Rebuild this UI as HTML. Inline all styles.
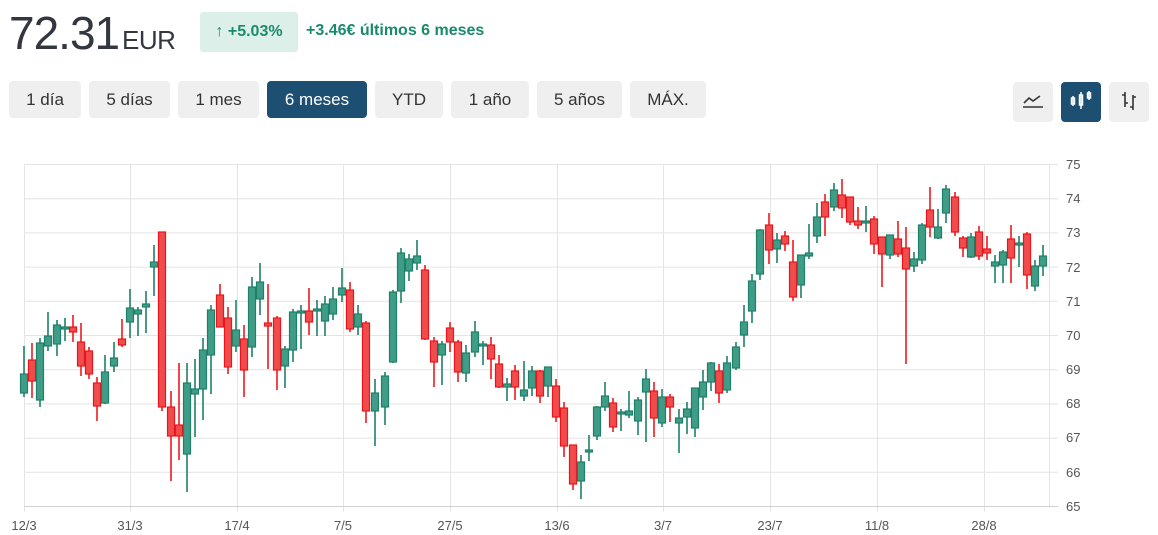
<!DOCTYPE html>
<html><head><meta charset="utf-8"><style>
*{margin:0;padding:0;box-sizing:border-box}
body{width:1158px;height:535px;background:#fff;font-family:"Liberation Sans",sans-serif;position:relative;overflow:hidden}
.price{position:absolute;left:9px;top:6px;font-size:46px;color:#333840;letter-spacing:-1px}
.cur{position:absolute;left:122px;top:25px;font-size:26px;color:#333840;letter-spacing:-0.5px}
.badge{position:absolute;left:200px;top:12px;width:98px;height:40px;background:#dcefe9;border-radius:3px;color:#1a8a6c;font-size:16px;font-weight:bold;line-height:40px;text-align:center}
.chg{position:absolute;left:306px;top:22px;font-size:16px;font-weight:bold;color:#1a8a6c}
.btn{position:absolute;top:81px;height:37px;background:#efefef;border-radius:4px;font-size:17px;color:#333;line-height:37px;text-align:center}
.act{background:#1d4f73;color:#fff}
.ib{position:absolute;top:82px;width:40px;height:40px;background:#efefef;border-radius:4px}
svg{position:absolute;left:0;top:0}
.u line{stroke:#1e8068;stroke-width:1.6}
.u rect{fill:#3f9c86;stroke:#1e8068;stroke-width:1.2}
.d line{stroke:#f01a1e;stroke-width:1.6}
.d rect{fill:#f04c4e;stroke:#e8161b;stroke-width:1.2}
</style></head><body>
<div class="price">72.31</div><div class="cur">EUR</div>
<div class="badge"><span style="font-weight:normal">↑</span> +5.03%</div>
<div class="chg">+3.46€ últimos 6 meses</div>
<div class="btn" style="left:9px;width:72px">1 día</div>
<div class="btn" style="left:89px;width:81px">5 días</div>
<div class="btn" style="left:178px;width:81px">1 mes</div>
<div class="btn act" style="left:267px;width:100px">6 meses</div>
<div class="btn" style="left:375px;width:68px">YTD</div>
<div class="btn" style="left:451px;width:78px">1 año</div>
<div class="btn" style="left:537px;width:85px">5 años</div>
<div class="btn" style="left:630px;width:76px">MÁX.</div>
<div class="ib" style="left:1013px"></div>
<div class="ib" style="left:1061px;background:#1d4f73"></div>
<div class="ib" style="left:1109px"></div>
<svg width="1158" height="535">
<g stroke="#333" stroke-width="1.6" fill="none">
<path d="M1023 107h20M1024 103l5-5 4 3 7-5"/>
</g>
<g stroke="#fff" stroke-width="1.5" fill="none">
<rect x="1071.5" y="98" width="3" height="6"/><line x1="1073" y1="96" x2="1073" y2="106"/>
<rect x="1079.5" y="95" width="3" height="10"/><line x1="1081" y1="92" x2="1081" y2="109"/>
<rect x="1087.5" y="93" width="3" height="5"/><line x1="1089" y1="91" x2="1089" y2="100"/>
</g>
<g stroke="#333" stroke-width="1.6" fill="none">
<path d="M1125 92v15M1122 95h3M1125 103h3M1133 95v15M1133 97h3M1130 107h3"/>
</g>
<g stroke="#e4e4e4" stroke-width="1">
<line x1="24" y1="164.5" x2="1058" y2="164.5"/><line x1="24" y1="198.7" x2="1058" y2="198.7"/><line x1="24" y1="232.9" x2="1058" y2="232.9"/><line x1="24" y1="267.1" x2="1058" y2="267.1"/><line x1="24" y1="301.3" x2="1058" y2="301.3"/><line x1="24" y1="335.5" x2="1058" y2="335.5"/><line x1="24" y1="369.7" x2="1058" y2="369.7"/><line x1="24" y1="403.9" x2="1058" y2="403.9"/><line x1="24" y1="438.1" x2="1058" y2="438.1"/><line x1="24" y1="472.3" x2="1058" y2="472.3"/>
<line x1="24.5" y1="164" x2="24.5" y2="512"/><line x1="130.5" y1="164" x2="130.5" y2="512"/><line x1="237.5" y1="164" x2="237.5" y2="512"/><line x1="343.5" y1="164" x2="343.5" y2="512"/><line x1="450.5" y1="164" x2="450.5" y2="512"/><line x1="557.5" y1="164" x2="557.5" y2="512"/><line x1="663.5" y1="164" x2="663.5" y2="512"/><line x1="770.5" y1="164" x2="770.5" y2="512"/><line x1="877.5" y1="164" x2="877.5" y2="512"/><line x1="984.5" y1="164" x2="984.5" y2="512"/><line x1="1049.5" y1="164" x2="1049.5" y2="506"/>
</g>
<line x1="24" y1="506.5" x2="1058" y2="506.5" stroke="#d0d0d0"/>
<g font-size="13" fill="#555" font-family="Liberation Sans, sans-serif">
<text x="1066" y="169">75</text><text x="1066" y="203">74</text><text x="1066" y="237">73</text><text x="1066" y="272">72</text><text x="1066" y="306">71</text><text x="1066" y="340">70</text><text x="1066" y="374">69</text><text x="1066" y="408">68</text><text x="1066" y="442">67</text><text x="1066" y="477">66</text><text x="1066" y="511">65</text>
</g>
<g font-size="13" fill="#555" text-anchor="middle" font-family="Liberation Sans, sans-serif">
<text x="24" y="530">12/3</text><text x="130" y="530">31/3</text><text x="237" y="530">17/4</text><text x="343" y="530">7/5</text><text x="450" y="530">27/5</text><text x="557" y="530">13/6</text><text x="663" y="530">3/7</text><text x="770" y="530">23/7</text><text x="877" y="530">11/8</text><text x="984" y="530">28/8</text>
</g>
<g class="u"><line x1="24" y1="346" x2="24" y2="397"/><rect x="20.5" y="374" width="7" height="19"/></g>
<g class="d"><line x1="32" y1="343" x2="32" y2="398"/><rect x="28.5" y="360" width="7" height="21"/></g>
<g class="u"><line x1="40" y1="338" x2="40" y2="407"/><rect x="36.5" y="343" width="7" height="57"/></g>
<g class="u"><line x1="48" y1="312" x2="48" y2="351"/><rect x="44.5" y="336" width="7" height="10"/></g>
<g class="u"><line x1="57" y1="320" x2="57" y2="356"/><rect x="53.5" y="325" width="7" height="19"/></g>
<g class="u"><line x1="65" y1="318" x2="65" y2="341"/><rect x="61.5" y="327" width="7" height="2"/></g>
<g class="d"><line x1="73" y1="315" x2="73" y2="342"/><rect x="69.5" y="327" width="7" height="5"/></g>
<g class="d"><line x1="81" y1="323" x2="81" y2="376"/><rect x="77.5" y="342" width="7" height="24"/></g>
<g class="d"><line x1="89" y1="347" x2="89" y2="379"/><rect x="85.5" y="351" width="7" height="23"/></g>
<g class="d"><line x1="97" y1="377" x2="97" y2="421"/><rect x="93.5" y="383" width="7" height="23"/></g>
<g class="u"><line x1="105" y1="355" x2="105" y2="404"/><rect x="101.5" y="372" width="7" height="31"/></g>
<g class="u"><line x1="114" y1="342" x2="114" y2="372"/><rect x="110.5" y="358" width="7" height="8"/></g>
<g class="d"><line x1="122" y1="319" x2="122" y2="347"/><rect x="118.5" y="339" width="7" height="6"/></g>
<g class="u"><line x1="130" y1="289" x2="130" y2="338"/><rect x="126.5" y="308" width="7" height="14"/></g>
<g class="u"><line x1="138" y1="307" x2="138" y2="336"/><rect x="134.5" y="310" width="7" height="4"/></g>
<g class="u"><line x1="146" y1="291" x2="146" y2="333"/><rect x="142.5" y="304" width="7" height="3"/></g>
<g class="u"><line x1="154" y1="245" x2="154" y2="296"/><rect x="150.5" y="262" width="7" height="5"/></g>
<g class="d"><line x1="162" y1="232" x2="162" y2="411"/><rect x="158.5" y="232" width="7" height="175"/></g>
<g class="d"><line x1="171" y1="391" x2="171" y2="481"/><rect x="167.5" y="407" width="7" height="29"/></g>
<g class="d"><line x1="179" y1="363" x2="179" y2="460"/><rect x="175.5" y="425" width="7" height="11"/></g>
<g class="u"><line x1="187" y1="363" x2="187" y2="492"/><rect x="183.5" y="383" width="7" height="71"/></g>
<g class="u"><line x1="195" y1="359" x2="195" y2="437"/><rect x="191.5" y="389" width="7" height="5"/></g>
<g class="u"><line x1="203" y1="338" x2="203" y2="420"/><rect x="199.5" y="350" width="7" height="39"/></g>
<g class="u"><line x1="211" y1="305" x2="211" y2="394"/><rect x="207.5" y="310" width="7" height="45"/></g>
<g class="d"><line x1="220" y1="284" x2="220" y2="327"/><rect x="216.5" y="295" width="7" height="32"/></g>
<g class="d"><line x1="228" y1="307" x2="228" y2="374"/><rect x="224.5" y="318" width="7" height="49"/></g>
<g class="u"><line x1="236" y1="300" x2="236" y2="352"/><rect x="232.5" y="330" width="7" height="16"/></g>
<g class="d"><line x1="244" y1="325" x2="244" y2="397"/><rect x="240.5" y="339" width="7" height="31"/></g>
<g class="u"><line x1="252" y1="277" x2="252" y2="357"/><rect x="248.5" y="287" width="7" height="60"/></g>
<g class="u"><line x1="260" y1="263" x2="260" y2="315"/><rect x="256.5" y="282" width="7" height="17"/></g>
<g class="d"><line x1="268" y1="284" x2="268" y2="369"/><rect x="264.5" y="323" width="7" height="3"/></g>
<g class="d"><line x1="277" y1="316" x2="277" y2="390"/><rect x="273.5" y="318" width="7" height="52"/></g>
<g class="u"><line x1="285" y1="346" x2="285" y2="388"/><rect x="281.5" y="349" width="7" height="17"/></g>
<g class="u"><line x1="293" y1="309" x2="293" y2="362"/><rect x="289.5" y="312" width="7" height="38"/></g>
<g class="u"><line x1="301" y1="305" x2="301" y2="349"/><rect x="297.5" y="311" width="7" height="2"/></g>
<g class="d"><line x1="309" y1="288" x2="309" y2="335"/><rect x="305.5" y="311" width="7" height="11"/></g>
<g class="u"><line x1="317" y1="300" x2="317" y2="336"/><rect x="313.5" y="309" width="7" height="2"/></g>
<g class="u"><line x1="325" y1="296" x2="325" y2="336"/><rect x="321.5" y="304" width="7" height="17"/></g>
<g class="u"><line x1="333" y1="287" x2="333" y2="320"/><rect x="329.5" y="299" width="7" height="15"/></g>
<g class="u"><line x1="342" y1="268" x2="342" y2="302"/><rect x="338.5" y="288" width="7" height="7"/></g>
<g class="d"><line x1="350" y1="282" x2="350" y2="332"/><rect x="346.5" y="290" width="7" height="39"/></g>
<g class="u"><line x1="358" y1="305" x2="358" y2="335"/><rect x="354.5" y="314" width="7" height="13"/></g>
<g class="d"><line x1="366" y1="321" x2="366" y2="423"/><rect x="362.5" y="323" width="7" height="88"/></g>
<g class="u"><line x1="375" y1="379" x2="375" y2="446"/><rect x="371.5" y="393" width="7" height="18"/></g>
<g class="u"><line x1="385" y1="372" x2="385" y2="425"/><rect x="381.5" y="376" width="7" height="31"/></g>
<g class="u"><line x1="393" y1="290" x2="393" y2="363"/><rect x="389.5" y="292" width="7" height="70"/></g>
<g class="u"><line x1="401" y1="248" x2="401" y2="303"/><rect x="397.5" y="253" width="7" height="38"/></g>
<g class="u"><line x1="409" y1="254" x2="409" y2="281"/><rect x="405.5" y="259" width="7" height="12"/></g>
<g class="u"><line x1="417" y1="240" x2="417" y2="270"/><rect x="413.5" y="256" width="7" height="7"/></g>
<g class="d"><line x1="425" y1="265" x2="425" y2="340"/><rect x="421.5" y="270" width="7" height="69"/></g>
<g class="d"><line x1="434" y1="337" x2="434" y2="387"/><rect x="430.5" y="341" width="7" height="21"/></g>
<g class="u"><line x1="442" y1="341" x2="442" y2="385"/><rect x="438.5" y="344" width="7" height="11"/></g>
<g class="d"><line x1="450" y1="322" x2="450" y2="352"/><rect x="446.5" y="328" width="7" height="14"/></g>
<g class="d"><line x1="458" y1="340" x2="458" y2="382"/><rect x="454.5" y="342" width="7" height="30"/></g>
<g class="u"><line x1="466" y1="345" x2="466" y2="382"/><rect x="462.5" y="353" width="7" height="20"/></g>
<g class="u"><line x1="475" y1="321" x2="475" y2="357"/><rect x="471.5" y="332" width="7" height="20"/></g>
<g class="u"><line x1="483" y1="341" x2="483" y2="365"/><rect x="479.5" y="344" width="7" height="2"/></g>
<g class="d"><line x1="491" y1="337" x2="491" y2="379"/><rect x="487.5" y="345" width="7" height="14"/></g>
<g class="d"><line x1="499" y1="355" x2="499" y2="388"/><rect x="495.5" y="364" width="7" height="23"/></g>
<g class="u"><line x1="507" y1="378" x2="507" y2="401"/><rect x="503.5" y="384" width="7" height="3"/></g>
<g class="d"><line x1="515" y1="365" x2="515" y2="400"/><rect x="511.5" y="371" width="7" height="16"/></g>
<g class="u"><line x1="524" y1="361" x2="524" y2="401"/><rect x="520.5" y="390" width="7" height="6"/></g>
<g class="u"><line x1="532" y1="366" x2="532" y2="396"/><rect x="528.5" y="371" width="7" height="17"/></g>
<g class="d"><line x1="540" y1="370" x2="540" y2="403"/><rect x="536.5" y="371" width="7" height="25"/></g>
<g class="u"><line x1="548" y1="367" x2="548" y2="397"/><rect x="544.5" y="367" width="7" height="19"/></g>
<g class="d"><line x1="556" y1="379" x2="556" y2="422"/><rect x="552.5" y="386" width="7" height="31"/></g>
<g class="d"><line x1="564" y1="402" x2="564" y2="457"/><rect x="560.5" y="408" width="7" height="38"/></g>
<g class="d"><line x1="573" y1="445" x2="573" y2="490"/><rect x="569.5" y="445" width="7" height="39"/></g>
<g class="u"><line x1="581" y1="455" x2="581" y2="499"/><rect x="577.5" y="462" width="7" height="19"/></g>
<g class="u"><line x1="589" y1="435" x2="589" y2="461"/><rect x="585.5" y="450" width="7" height="2"/></g>
<g class="u"><line x1="597" y1="406" x2="597" y2="440"/><rect x="593.5" y="407" width="7" height="29"/></g>
<g class="u"><line x1="605" y1="382" x2="605" y2="411"/><rect x="601.5" y="396" width="7" height="11"/></g>
<g class="d"><line x1="613" y1="398" x2="613" y2="432"/><rect x="609.5" y="403" width="7" height="24"/></g>
<g class="u"><line x1="621" y1="409" x2="621" y2="431"/><rect x="617.5" y="412" width="7" height="2"/></g>
<g class="u"><line x1="629" y1="391" x2="629" y2="418"/><rect x="625.5" y="411" width="7" height="4"/></g>
<g class="u"><line x1="638" y1="397" x2="638" y2="435"/><rect x="634.5" y="400" width="7" height="21"/></g>
<g class="u"><line x1="646" y1="369" x2="646" y2="442"/><rect x="642.5" y="379" width="7" height="13"/></g>
<g class="d"><line x1="654" y1="382" x2="654" y2="437"/><rect x="650.5" y="391" width="7" height="27"/></g>
<g class="u"><line x1="662" y1="389" x2="662" y2="427"/><rect x="658.5" y="397" width="7" height="26"/></g>
<g class="d"><line x1="670" y1="394" x2="670" y2="422"/><rect x="666.5" y="397" width="7" height="10"/></g>
<g class="u"><line x1="679" y1="409" x2="679" y2="453"/><rect x="675.5" y="418" width="7" height="5"/></g>
<g class="u"><line x1="687" y1="402" x2="687" y2="434"/><rect x="683.5" y="409" width="7" height="8"/></g>
<g class="u"><line x1="695" y1="388" x2="695" y2="437"/><rect x="691.5" y="388" width="7" height="40"/></g>
<g class="u"><line x1="703" y1="370" x2="703" y2="410"/><rect x="699.5" y="382" width="7" height="15"/></g>
<g class="u"><line x1="711" y1="362" x2="711" y2="391"/><rect x="707.5" y="363" width="7" height="19"/></g>
<g class="d"><line x1="719" y1="364" x2="719" y2="403"/><rect x="715.5" y="371" width="7" height="22"/></g>
<g class="u"><line x1="727" y1="356" x2="727" y2="393"/><rect x="723.5" y="363" width="7" height="27"/></g>
<g class="u"><line x1="736" y1="342" x2="736" y2="370"/><rect x="732.5" y="347" width="7" height="21"/></g>
<g class="u"><line x1="744" y1="305" x2="744" y2="347"/><rect x="740.5" y="322" width="7" height="13"/></g>
<g class="u"><line x1="752" y1="274" x2="752" y2="323"/><rect x="748.5" y="281" width="7" height="30"/></g>
<g class="u"><line x1="760" y1="229" x2="760" y2="280"/><rect x="756.5" y="230" width="7" height="44"/></g>
<g class="d"><line x1="769" y1="213" x2="769" y2="264"/><rect x="765.5" y="225" width="7" height="25"/></g>
<g class="u"><line x1="777" y1="233" x2="777" y2="263"/><rect x="773.5" y="240" width="7" height="9"/></g>
<g class="d"><line x1="785" y1="231" x2="785" y2="251"/><rect x="781.5" y="236" width="7" height="8"/></g>
<g class="d"><line x1="793" y1="240" x2="793" y2="301"/><rect x="789.5" y="262" width="7" height="35"/></g>
<g class="u"><line x1="801" y1="255" x2="801" y2="298"/><rect x="797.5" y="255" width="7" height="30"/></g>
<g class="u"><line x1="809" y1="224" x2="809" y2="259"/><rect x="805.5" y="253" width="7" height="3"/></g>
<g class="u"><line x1="817" y1="203" x2="817" y2="243"/><rect x="813.5" y="217" width="7" height="19"/></g>
<g class="d"><line x1="825" y1="194" x2="825" y2="236"/><rect x="821.5" y="202" width="7" height="15"/></g>
<g class="u"><line x1="834" y1="183" x2="834" y2="211"/><rect x="830.5" y="190" width="7" height="17"/></g>
<g class="d"><line x1="842" y1="179" x2="842" y2="218"/><rect x="838.5" y="195" width="7" height="13"/></g>
<g class="d"><line x1="850" y1="197" x2="850" y2="225"/><rect x="846.5" y="197" width="7" height="25"/></g>
<g class="d"><line x1="858" y1="207" x2="858" y2="229"/><rect x="854.5" y="221" width="7" height="4"/></g>
<g class="u"><line x1="866" y1="206" x2="866" y2="232"/><rect x="862.5" y="221" width="7" height="2"/></g>
<g class="d"><line x1="874" y1="216" x2="874" y2="254"/><rect x="870.5" y="219" width="7" height="25"/></g>
<g class="d"><line x1="882" y1="237" x2="882" y2="287"/><rect x="878.5" y="237" width="7" height="17"/></g>
<g class="u"><line x1="890" y1="235" x2="890" y2="259"/><rect x="886.5" y="235" width="7" height="20"/></g>
<g class="d"><line x1="898" y1="221" x2="898" y2="257"/><rect x="894.5" y="239" width="7" height="15"/></g>
<g class="d"><line x1="906" y1="227" x2="906" y2="364"/><rect x="902.5" y="248" width="7" height="21"/></g>
<g class="u"><line x1="914" y1="252" x2="914" y2="272"/><rect x="910.5" y="259" width="7" height="7"/></g>
<g class="u"><line x1="922" y1="223" x2="922" y2="264"/><rect x="918.5" y="225" width="7" height="35"/></g>
<g class="d"><line x1="930" y1="187" x2="930" y2="237"/><rect x="926.5" y="210" width="7" height="17"/></g>
<g class="u"><line x1="938" y1="209" x2="938" y2="239"/><rect x="934.5" y="227" width="7" height="11"/></g>
<g class="u"><line x1="946" y1="185" x2="946" y2="223"/><rect x="942.5" y="189" width="7" height="24"/></g>
<g class="d"><line x1="955" y1="192" x2="955" y2="236"/><rect x="951.5" y="197" width="7" height="35"/></g>
<g class="d"><line x1="963" y1="236" x2="963" y2="257"/><rect x="959.5" y="238" width="7" height="10"/></g>
<g class="u"><line x1="971" y1="233" x2="971" y2="258"/><rect x="967.5" y="237" width="7" height="20"/></g>
<g class="d"><line x1="979" y1="226" x2="979" y2="260"/><rect x="975.5" y="232" width="7" height="24"/></g>
<g class="d"><line x1="987" y1="236" x2="987" y2="260"/><rect x="983.5" y="249" width="7" height="4"/></g>
<g class="u"><line x1="995" y1="255" x2="995" y2="283"/><rect x="991.5" y="262" width="7" height="4"/></g>
<g class="u"><line x1="1003" y1="250" x2="1003" y2="283"/><rect x="999.5" y="252" width="7" height="13"/></g>
<g class="d"><line x1="1011" y1="225" x2="1011" y2="283"/><rect x="1007.5" y="239" width="7" height="19"/></g>
<g class="u"><line x1="1019" y1="236" x2="1019" y2="267"/><rect x="1015.5" y="243" width="7" height="2"/></g>
<g class="d"><line x1="1027" y1="232" x2="1027" y2="289"/><rect x="1023.5" y="234" width="7" height="41"/></g>
<g class="u"><line x1="1035" y1="260" x2="1035" y2="291"/><rect x="1031.5" y="266" width="7" height="20"/></g>
<g class="u"><line x1="1043" y1="245" x2="1043" y2="276"/><rect x="1039.5" y="256" width="7" height="10"/></g>
</svg>
</body></html>
